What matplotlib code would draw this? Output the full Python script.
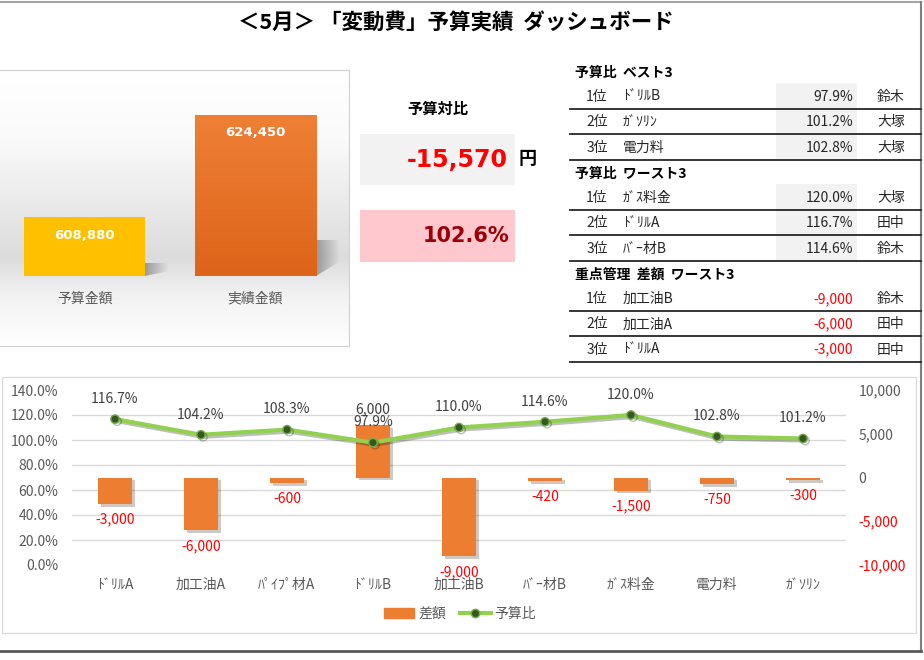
import numpy as np
import matplotlib.pyplot as plt
import matplotlib.patheffects as pe
from matplotlib.colors import LinearSegmentedColormap
from matplotlib.lines import Line2D
from matplotlib.patches import Patch, Rectangle, Polygon
from matplotlib.ticker import FuncFormatter

plt.rcParams['font.family'] = ['Noto Sans CJK JP', 'DejaVu Sans']

W, H = 924, 660

title = '＜5月＞ 「変動費」予算実績  ダッシュボード'

# 予算 / 実績
kpi_labels = ['予算金額', '実績金額']
kpi_values = [608880, 624450]
kpi_colors = ['#FFC000', '#ED7D31']
kpi_base = 600000
kpi_top = 630000
kpi_diff = -15570
kpi_ratio = 102.6

# 項目別 差額・予算比
categories = ['ﾄﾞﾘﾙA', '加工油A', 'ﾊﾟｲﾌﾟ材A', 'ﾄﾞﾘﾙB', '加工油B', 'ﾊﾞｰ材B', 'ｶﾞｽ料金', '電力料', 'ｶﾞｿﾘﾝ']
diff_values = [-3000, -6000, -600, 6000, -9000, -420, -1500, -750, -300]
ratio_values = [116.7, 104.2, 108.3, 97.9, 110.0, 114.6, 120.0, 102.8, 101.2]

# ランキング表
best_items = ['ﾄﾞﾘﾙB', 'ｶﾞｿﾘﾝ', '電力料']
best_ratios = [97.9, 101.2, 102.8]
best_persons = ['鈴木', '大塚', '大塚']
worst_items = ['ｶﾞｽ料金', 'ﾄﾞﾘﾙA', 'ﾊﾞｰ材B']
worst_ratios = [120.0, 116.7, 114.6]
worst_persons = ['大塚', '田中', '鈴木']
diff_items = ['加工油B', '加工油A', 'ﾄﾞﾘﾙA']
diff_worst = [-9000, -6000, -3000]
diff_persons = ['鈴木', '田中', '田中']

GRAY_TXT = '#595959'
DARK_TXT = '#404040'
RED = '#FF0000'
ORANGE = '#ED7D31'

fig = plt.figure(figsize=(W / 100, H / 100), dpi=100)


def px_axes(x0, y0, x1, y1):
    return fig.add_axes([x0 / W, 1 - y1 / H, (x1 - x0) / W, (y1 - y0) / H])


# 全体（ピクセル座標のオーバーレイ）
ov = px_axes(0, 0, W, H)
ov.set_xlim(0, W)
ov.set_ylim(H, 0)
ov.axis('off')

ov.plot([0, 921], [2, 2], color='#A6A6A6', lw=1.5)
ov.plot([921, 921], [2, 651], color='#7F7F7F', lw=1.5)
ov.plot([0, 921], [651, 651], color='#595959', lw=2)
ov.text(456, 23, title, ha='center', va='center', fontsize=15.5, fontweight='bold')

# --- 予算金額 / 実績金額 パネル ---
bg = px_axes(0, 70, 349, 346)
grad = np.linspace(0, 1, 256).reshape(-1, 1)
bg_cmap = LinearSegmentedColormap.from_list(
    'bg', [(0, '#FFFFFF'), (0.25, '#FAFAFA'), (0.68, '#DCDCDC'), (0.82, '#F2F2F2'), (1, '#FFFFFF')])
bg.imshow(grad, aspect='auto', cmap=bg_cmap, extent=(0, 1, 0, 1))
bg.set_xticks([])
bg.set_yticks([])
for s in bg.spines.values():
    s.set_color('#D0D0D0')
bg.spines['left'].set_visible(False)

kp = px_axes(0, 78, 349, 276)
x = np.arange(len(kpi_values))
bars = kp.bar(x, np.array(kpi_values) - kpi_base, bottom=kpi_base, width=0.71,
              color=kpi_colors, zorder=2)

# 実績バーのグラデーション
og = LinearSegmentedColormap.from_list('og', ['#DD6419', '#EE8036'])
b = bars[1]
im = kp.imshow(grad, origin='lower', aspect='auto', cmap=og, zorder=3,
               extent=(b.get_x(), b.get_x() + b.get_width(), kpi_base, kpi_values[1]))
im.set_clip_path(b)

# 影
shade = np.zeros((1, 64, 4))
shade[..., :3] = 0.45
shade[..., 3] = np.linspace(0.65, 0.0, 64)
for bar, v in zip(bars, kpi_values):
    right = bar.get_x() + bar.get_width()
    sh = 0.22 * (v - kpi_base)
    poly = Polygon([(right, kpi_base), (right, kpi_base + sh), (right + 0.14, kpi_base + sh),
                    (right + 0.14, kpi_base + 0.4 * sh)], fill=False, edgecolor='none')
    kp.add_patch(poly)
    sim = kp.imshow(shade, aspect='auto', zorder=1,
                    extent=(right, right + 0.14, kpi_base, kpi_base + sh))
    sim.set_clip_path(poly)

for xi, v in zip(x, kpi_values):
    kp.annotate(f'{v:,}', (xi, v), xytext=(0, -13), textcoords='offset points',
                ha='center', va='center', color='white', fontsize=9.5, fontweight='bold',
                family='DejaVu Sans', zorder=5)

kp.set_xticks(x, kpi_labels)
kp.tick_params(axis='x', length=0, pad=11, labelsize=10, labelcolor=GRAY_TXT)
kp.set_yticks([])
kp.set_xlim(-0.496, 1.551)
kp.set_ylim(kpi_base, kpi_top)
kp.patch.set_visible(False)
for s in kp.spines.values():
    s.set_visible(False)

# --- 予算対比 ---
ov.text(438, 109, '予算対比', ha='center', va='center', fontsize=11, fontweight='bold')
ov.add_patch(Rectangle((360, 134), 155, 51, color='#F2F2F2', lw=0))
ov.text(508, 160, f'{kpi_diff:,}', ha='right', va='center', color=RED, fontsize=17,
        fontweight='bold', family='DejaVu Sans')
ov.text(519, 159, '円', ha='left', va='center', fontsize=13, fontweight='bold')
ov.add_patch(Rectangle((360, 210), 155, 52, color='#FFC7CE', lw=0))
ov.text(509, 236, f'{kpi_ratio:.1f}%', ha='right', va='center', color='#9C0006', fontsize=15,
        fontweight='bold', family='DejaVu Sans')


# --- ランキング表 ---
def draw_table(y0, header, items, values, persons, fmt, shaded, val_color):
    ov.text(575, y0, header, ha='left', va='center', fontsize=10, fontweight='bold')
    for i, (it, val, per) in enumerate(zip(items, values, persons)):
        line_y = y0 + 36 + 25.3 * i
        ty = line_y - 12
        if shaded:
            ov.add_patch(Rectangle((776, line_y - 26), 81, 25, color='#F2F2F2', lw=0))
        ov.text(597, ty, f'{i + 1}位', ha='center', va='center', fontsize=10, color='#262626')
        ov.text(623, ty, it, ha='left', va='center', fontsize=10, color='#262626')
        ov.text(853, ty, fmt(val), ha='right', va='center', fontsize=10, color=val_color)
        ov.text(891, ty, per, ha='center', va='center', fontsize=10, color='#262626')
        ov.plot([570, 921], [line_y, line_y], color='#262626', lw=1.3)


draw_table(73, '予算比  ベスト3', best_items, best_ratios, best_persons,
           lambda v: f'{v:.1f}%', True, '#262626')
draw_table(174, '予算比  ワースト3', worst_items, worst_ratios, worst_persons,
           lambda v: f'{v:.1f}%', True, '#262626')
draw_table(275, '重点管理  差額  ワースト3', diff_items, diff_worst, diff_persons,
           lambda v: f'{v:,}', False, RED)

# --- 差額・予算比 グラフ ---
bx = px_axes(2, 377, 916, 633)
bx.set_xticks([])
bx.set_yticks([])
for s in bx.spines.values():
    s.set_color('#D9D9D9')

ax = px_axes(72, 390, 846, 565)
ax.patch.set_visible(False)
xc = np.arange(len(categories))
bars2 = ax.bar(xc, diff_values, width=0.4, color=ORANGE, zorder=3)
for bb in bars2:
    bb.set_path_effects([pe.SimplePatchShadow(offset=(2, -2), alpha=0.25), pe.Normal()])
for xi, v in zip(xc, diff_values):
    off = 11 if v > 0 else -11.5
    ax.annotate(f'{v:,}', (xi, v), xytext=(0, off), textcoords='offset points',
                ha='center', va='center', fontsize=10, color=RED if v < 0 else DARK_TXT, zorder=5)

al = ax.twinx()

ax.set_xlim(-0.5, len(categories) - 0.5)
ax.set_ylim(-10000, 10000)
ax.yaxis.tick_right()
ax.set_yticks(np.arange(-10000, 10001, 5000))
ax.yaxis.set_major_formatter(FuncFormatter(lambda v, p: f'{v:,.0f}'))
ax.set_yticks(np.linspace(-10000, 10000, 8), minor=True)
ax.grid(axis='y', which='minor', color='#D9D9D9', lw=1)
ax.set_axisbelow(True)
ax.set_xticks(xc, categories)
ax.tick_params(axis='x', length=0, pad=9.5, labelsize=10, labelcolor=GRAY_TXT)
ax.tick_params(axis='y', which='both', length=0, pad=9, labelsize=10, labelcolor=GRAY_TXT)
for s in ax.spines.values():
    s.set_visible(False)

al.yaxis.tick_left()
al.plot(xc, ratio_values, color='#92D050', lw=3, marker='o', ms=6, mfc='#375623',
        mec='#70AD47', mew=1, zorder=4,
        path_effects=[pe.SimpleLineShadow(offset=(1.5, -1.5), alpha=0.25), pe.Normal()])
for xi, r in zip(xc, ratio_values):
    al.annotate(f'{r:.1f}%', (xi, r), xytext=(0, 14.5), textcoords='offset points',
                ha='center', va='center', fontsize=10, color=DARK_TXT, zorder=5)
al.set_ylim(0, 140)
al.set_yticks(np.arange(0, 141, 20))
al.yaxis.set_major_formatter(FuncFormatter(lambda v, p: f'{v:.1f}%'))
al.tick_params(axis='y', length=0, pad=10, labelsize=10, labelcolor=GRAY_TXT)
for s in al.spines.values():
    s.set_visible(False)

fig.canvas.draw()
for lab, v in zip(ax.get_yticklabels(), ax.get_yticks()):
    if v < 0:
        lab.set_color(RED)

handles = [Patch(color=ORANGE, label='差額'),
           Line2D([], [], color='#92D050', lw=3, marker='o', ms=6, mfc='#375623',
                  mec='#70AD47', label='予算比')]
fig.legend(handles=handles, loc='center', bbox_to_anchor=(460 / W, 1 - 614 / H), ncol=2,
           frameon=False, fontsize=10, labelcolor=GRAY_TXT, handlelength=2.2,
           columnspacing=1.0, handletextpad=0.3)

fig.savefig('out.png', dpi=100)
